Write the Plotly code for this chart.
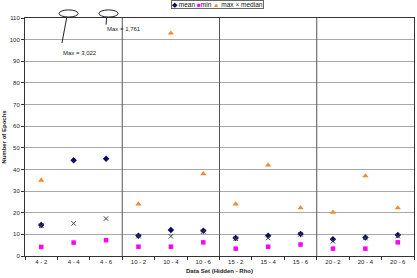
import plotly.graph_objects as go

categories = ["4 - 2", "4 - 4", "4 - 6", "10 - 2", "10 - 4", "10 - 6",
              "15 - 2", "15 - 4", "15 - 6", "20 - 2", "20 - 4", "20 - 6"]
mean_vals = [14.3, 44.2, 45.0, 9.4, 12.0, 11.7, 8.3, 9.4, 10.2, 7.7, 8.6, 9.7]
min_vals = [4.2, 6.2, 7.3, 4.3, 4.3, 6.3, 3.4, 4.3, 5.3, 3.4, 3.4, 6.3]
max_vals = [35.0, None, None, 24.0, 103.0, 38.0, 24.0, 42.0, 22.2, 20.2, 37.0, 22.2]
median_vals = [14.0, 15.1, 17.3, 9.2, 9.1, 11.3, 8.0, 8.3, 10.0, 6.8, 8.3, 9.2]
offchart_max = {"4 - 4": "3,022", "4 - 6": "1,761"}
group_breaks = [2.5, 5.5, 8.5]

FONT = "Liberation Sans, Arial, sans-serif"
MEAN_C, MIN_C, MAX_C, MED_C = "#0a0a5c", "#ff00ff", "#f08a2c", "#404058"

fig = go.Figure()
fig.add_trace(go.Scatter(x=categories, y=mean_vals, mode="markers", name="mean",
                         marker=dict(symbol="diamond", size=5, color=MEAN_C)))
fig.add_trace(go.Scatter(x=categories, y=min_vals, mode="markers", name="min",
                         marker=dict(symbol="square", size=4.5, color=MIN_C)))
fig.add_trace(go.Scatter(x=categories, y=max_vals, mode="markers", name="max",
                         marker=dict(symbol="triangle-up", size=5.5, color=MAX_C)))
fig.add_trace(go.Scatter(x=categories, y=median_vals, mode="markers", name="median",
                         marker=dict(symbol="x-thin", size=4.5, color=MED_C,
                                     line=dict(width=1, color=MED_C))))

for b in group_breaks:
    fig.add_shape(type="line", xref="x", yref="paper", x0=b, x1=b, y0=0, y1=1,
                  line=dict(color="#555555", width=1))

# call-outs for maxima that fall off the chart (offsets relative to category)
callout = {
    # ellipse left, ellipse right, line top x, line bottom x, line bottom y, text x, text y
    "4 - 4": (-0.45, 0.14, -0.21, -0.36, 0.895, -0.39, 0.854),
    "4 - 6": (-0.22, 0.37, 0.02, 0.0, 0.972, -0.03, 0.954),
}
for cat, val in offchart_max.items():
    i = categories.index(cat)
    e0, e1, lt, lb, ly, tx, ty = callout[cat]
    fig.add_shape(type="circle", xref="x", yref="paper", x0=i + e0, x1=i + e1,
                  y0=1.004, y1=1.034, line=dict(color="#222222", width=1),
                  fillcolor="white")
    fig.add_shape(type="line", xref="x", yref="paper", x0=i + lt, x1=i + lb,
                  y0=1.004, y1=ly, line=dict(color="#222222", width=1))
    fig.add_annotation(x=i + tx, y=ty, xref="x", yref="paper",
                       text=f"Max = {val}", showarrow=False, xanchor="left",
                       yanchor="middle", font=dict(size=6, color="#222222", family=FONT))

legend_text = (f"<span style='color:{MEAN_C}'>◆</span> mean "
               f"<span style='color:{MIN_C}'>■</span>min "
               f"<span style='color:{MAX_C}'>▲</span> max "
               f"<span style='color:{MED_C}'>×</span> median")
fig.add_annotation(x=0.375, y=1.0, xref="paper", yref="paper", yshift=18,
                   text=legend_text, showarrow=False, xanchor="left", yanchor="top",
                   font=dict(size=6.5, color="#111111", family=FONT),
                   bordercolor="#666666", borderwidth=1, borderpad=0, bgcolor="white")

fig.update_layout(
    width=417, height=278, margin=dict(l=25, r=3, t=18, b=22),
    paper_bgcolor="white", plot_bgcolor="white", showlegend=False,
    font=dict(family=FONT, size=6, color="#222222"),
    xaxis=dict(type="category", categoryorder="array", categoryarray=categories,
               range=[-0.5, len(categories) - 0.5], showgrid=False,
               tickson="boundaries", ticks="outside", ticklen=3, tickcolor="#333333",
               showline=True, linecolor="#333333", linewidth=1, mirror=True,
               tickfont=dict(size=6),
               title=dict(text="<b>Data Set (Hidden - Rho)</b>", font=dict(size=6), standoff=4)),
    yaxis=dict(range=[0, 110], dtick=10, showgrid=True, gridcolor="#a8a8a8", gridwidth=1,
               ticks="outside", ticklen=3, tickcolor="#333333", zeroline=False,
               showline=True, linecolor="#333333", linewidth=1, mirror=True,
               tickfont=dict(size=6),
               title=dict(text="<b>Number of Epochs</b>", font=dict(size=6), standoff=2)),
)

fig.write_html("out.html")
